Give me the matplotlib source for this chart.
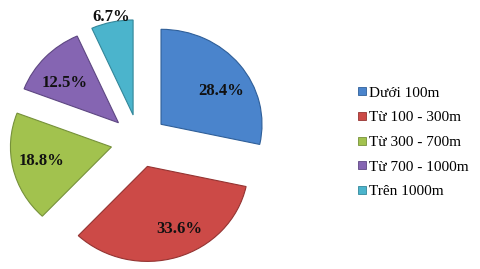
import numpy as np
import matplotlib
matplotlib.use("Agg")
import matplotlib.pyplot as plt
from matplotlib.lines import Line2D

categories = ["Dưới 100m", "Từ 100 - 300m", "Từ 300 - 700m", "Từ 700 - 1000m", "Trên 1000m"]
values = [28.4, 33.6, 18.8, 12.5, 6.7]
labels = ["28.4%", "33.6%", "18.8%", "12.5%", "6.7%"]
colors = ["#4A84CC", "#CC4A47", "#A2C24E", "#8565B2", "#4BB4CC"]
edges = ["#2F5F99", "#943432", "#76913A", "#5E4782", "#33879A"]
label_dist = [0.69, 0.73, 0.71, 0.68, 1.06]
label_turn = [-8, 8, -1, 5, 0]

W, H = 481, 269
fig = plt.figure(figsize=(W / 100, H / 100), dpi=100)
fig.patch.set_facecolor("white")

sx, sy = 101.0, 95.0  # px per radius unit
cx, cy = 139.0, 141.0  # pie centre (px from left, px from top)
axw = 300.0
ax = fig.add_axes([0, 0, axw / W, 1])

wedges, _ = ax.pie(values, colors=colors, startangle=90, counterclock=False,
                   explode=[0.28] * len(values), radius=1.0,
                   wedgeprops=dict(linewidth=0.8))
ax.set_aspect("auto")
ax.set_xlim(-cx / sx, (axw - cx) / sx)
ax.set_ylim(-(H - cy) / sy, cy / sy)
ax.axis("off")
for w, ec in zip(wedges, edges):
    w.set_edgecolor(ec)

for w, lab, d, t in zip(wedges, labels, label_dist, label_turn):
    ang = np.deg2rad((w.theta1 + w.theta2) / 2 + t)
    x = w.center[0] + d * np.cos(ang)
    y = w.center[1] + d * np.sin(ang)
    ax.text(x, y, lab, ha="center", va="center", fontsize=12,
            fontweight="bold", family="Liberation Serif", color="#111111")

handles = [Line2D([0], [0], marker="s", linestyle="none", markersize=5.2,
                  markerfacecolor=c, markeredgecolor=e, markeredgewidth=0.6)
           for c, e in zip(colors, edges)]
leg = fig.legend(handles, categories, loc="upper left",
                 bbox_to_anchor=(358 / W, 1 - 86 / H),
                 frameon=False, prop=dict(family="Liberation Serif", size=11),
                 handlelength=0.5, handletextpad=0.25, labelspacing=0.72,
                 borderaxespad=0, borderpad=0)

fig.savefig("out.png", dpi=100, facecolor="white")
